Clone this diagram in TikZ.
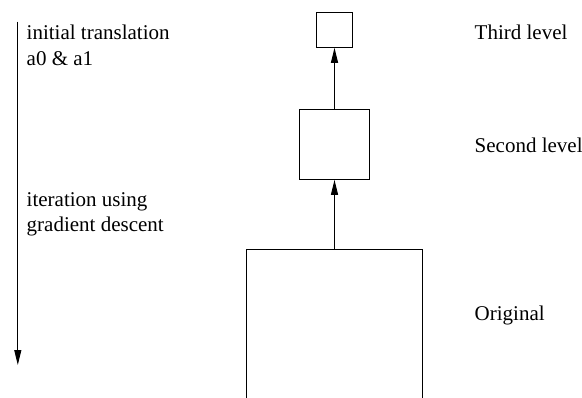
\documentclass[tikz,border=0pt]{standalone}
\usepackage{fontspec}
\setmainfont{Liberation Serif}
\usetikzlibrary{arrows.meta}
\begin{document}
\begin{tikzpicture}[x=1pt,y=-1pt,
  level/.style={draw, line width=1pt, inner sep=0pt},
  label/.style={anchor=base west, inner sep=0pt, font=\fontsize{21}{26}\selectfont},
  link/.style={line width=1pt, -{Triangle[length=15pt,width=7pt]}}]
  \clip (0,0) rectangle (582,397);
  % pyramid levels
  \node[level, minimum width=35.6pt, minimum height=35pt] (third) at (334.5,29.8) {};
  \node[level, minimum width=70.7pt, minimum height=70.3pt] (second) at (334.5,144.2) {};
  \node[inner sep=0pt, minimum width=175.6pt, minimum height=200pt, anchor=north] (orig) at (334.5,249.3) {};
  \draw[line width=1pt] (orig.south west) -- (orig.north west) -- (orig.north east) -- (orig.south east);
  \draw[link] (orig.north) -- (second.south);
  \draw[link] (second.north) -- (third.south);
  % level names
  \node[label] (lthird) at (474.5,39.3) {Third level};
  \node[label] (lsecond) at (474.5,152.7) {Second level};
  \node[label] (lorig) at (474.5,320) {Original};
  % process direction
  \coordinate (start) at (17.8,21.7);
  \coordinate (stop) at (17.8,365);
  \draw[link] (start) -- (stop);
  \node[label] (init1) at (26.5,39.3) {initial translation};
  \node[label] (init2) at (26.5,65.3) {a0 \& a1};
  \node[label] (iter1) at (26.5,206) {iteration using};
  \node[label] (iter2) at (26.5,231.7) {gradient descent};
\end{tikzpicture}
\end{document}
